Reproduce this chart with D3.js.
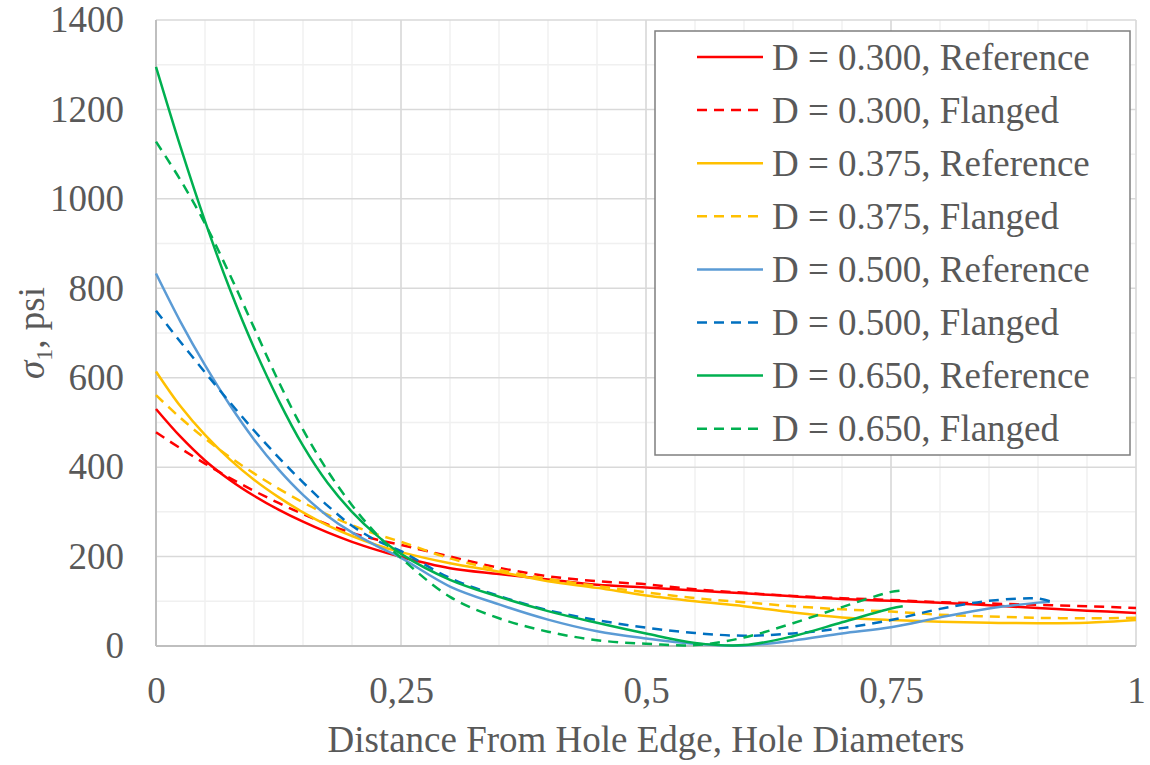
<!DOCTYPE html>
<html>
<head>
<meta charset="utf-8">
<script src="https://cdn.jsdelivr.net/npm/d3@7"></script>
<style>
    body { margin: 0; background: #fff; }
    svg { display: block; }
    text { font-family: "Liberation Serif", "Times New Roman", serif; fill: #595959; }
</style>
</head>
<body>
<svg width="1150" height="765"></svg>
<script>
// Distance from hole edge (hole diameters)
const distFull = [0, 0.025, 0.05, 0.075, 0.1, 0.125, 0.15, 0.175, 0.2, 0.225, 0.25, 0.3, 0.35, 0.4, 0.45, 0.5, 0.55, 0.6, 0.65, 0.7, 0.75, 0.8, 0.85, 0.9, 0.95, 1];
const distD500 = [0, 0.025, 0.05, 0.075, 0.1, 0.125, 0.15, 0.175, 0.2, 0.225, 0.25, 0.3, 0.35, 0.4, 0.45, 0.5, 0.55, 0.6, 0.65, 0.7, 0.75, 0.8, 0.85, 0.9, 0.912];
const distD650 = [0, 0.025, 0.05, 0.075, 0.1, 0.125, 0.15, 0.175, 0.2, 0.225, 0.25, 0.3, 0.35, 0.4, 0.45, 0.5, 0.55, 0.6, 0.65, 0.7, 0.75, 0.762];

// sigma_1, psi
const refD300 = [530, 468, 415, 372, 336, 305, 278, 254, 233, 215, 199, 174, 161, 149, 137, 131, 124, 118, 111, 105, 101, 97, 91, 85, 79, 74];
const flgD300 = [478, 442, 408, 376, 347, 320, 295, 272, 253, 238, 226, 200, 175, 156, 145, 138, 127, 119, 112, 107, 103, 98, 95, 92, 89, 85];
const refD375 = [614, 536, 472, 418, 372, 333, 299, 270, 246, 226, 210, 185, 166, 145, 130, 113, 100, 89, 75, 64, 58, 54, 52, 51, 52, 58];
const flgD375 = [561, 510, 464, 423, 386, 352, 321, 294, 270, 250, 233, 196, 170, 150, 134, 120, 107, 98, 89, 82, 77, 70, 66, 63, 62, 63];
const refD500 = [833, 725, 628, 540, 462, 395, 338, 291, 254, 224, 197, 133, 93, 59, 33, 17, 5, 1, 12, 28, 42, 64, 84, 97, 99];
const flgD500 = [750, 680, 612, 546, 482, 422, 366, 314, 269, 236, 212, 152, 112, 80, 58, 41, 29, 23, 28, 40, 58, 83, 101, 106, 100];
const refD650 = [1295, 1116, 950, 800, 667, 550, 448, 365, 300, 248, 206, 148, 110, 78, 52, 28, 7, 2, 22, 53, 84, 89];
const flgD650 = [1128, 1042, 945, 832, 712, 592, 484, 392, 315, 250, 197, 110, 62, 32, 13, 5, 2, 19, 51, 87, 121, 124];

const seriesNames = ['D = 0.300, Reference', 'D = 0.300, Flanged', 'D = 0.375, Reference', 'D = 0.375, Flanged',
    'D = 0.500, Reference', 'D = 0.500, Flanged', 'D = 0.650, Reference', 'D = 0.650, Flanged'];
const xTicks = [0, 0.25, 0.5, 0.75, 1];
const yTicks = [0, 200, 400, 600, 800, 1000, 1200, 1400];

const W = 1150, H = 765;
const LEFT = 156, RIGHT = 1136, TOP = 20, BOTTOM = 646;
const FONT = 37, TEXT_COLOR = '#595959';
const LINE_W = 2.5, DASH = '10,7';

const series = [
    {name: seriesNames[0], x: distFull, y: refD300, color: '#ff0000', dash: null},
    {name: seriesNames[1], x: distFull, y: flgD300, color: '#ff0000', dash: DASH},
    {name: seriesNames[2], x: distFull, y: refD375, color: '#ffc000', dash: null},
    {name: seriesNames[3], x: distFull, y: flgD375, color: '#ffc000', dash: DASH},
    {name: seriesNames[4], x: distD500, y: refD500, color: '#5b9bd5', dash: null},
    {name: seriesNames[5], x: distD500, y: flgD500, color: '#0070c0', dash: DASH},
    {name: seriesNames[6], x: distD650, y: refD650, color: '#00b050', dash: null},
    {name: seriesNames[7], x: distD650, y: flgD650, color: '#00b050', dash: DASH}
];

const svg = d3.select('svg');
const x = d3.scaleLinear().domain([0, 1]).range([LEFT, RIGHT]);
const y = d3.scaleLinear().domain([0, 1400]).range([BOTTOM, TOP]);

// Сетка: мелкая, потом основная
const grid = svg.append('g');
d3.range(0, 1.0001, 0.05).forEach(function (v) {
    grid.append('line')
        .attr('x1', x(v)).attr('x2', x(v))
        .attr('y1', TOP).attr('y2', BOTTOM)
        .attr('stroke', '#f0f0f0').attr('stroke-width', 1.5);
});
d3.range(100, 1401, 200).forEach(function (v) {
    grid.append('line')
        .attr('x1', LEFT).attr('x2', RIGHT)
        .attr('y1', y(v)).attr('y2', y(v))
        .attr('stroke', '#f0f0f0').attr('stroke-width', 1.5);
});
xTicks.forEach(function (v) {
    grid.append('line')
        .attr('x1', x(v)).attr('x2', x(v))
        .attr('y1', TOP).attr('y2', BOTTOM)
        .attr('stroke', '#d9d9d9').attr('stroke-width', 1.5);
});
yTicks.forEach(function (v) {
    grid.append('line')
        .attr('x1', LEFT).attr('x2', RIGHT)
        .attr('y1', y(v)).attr('y2', y(v))
        .attr('stroke', '#d9d9d9').attr('stroke-width', 1.5);
});

// Оси
svg.append('line')
    .attr('x1', LEFT).attr('x2', LEFT).attr('y1', TOP).attr('y2', BOTTOM)
    .attr('stroke', '#bfbfbf').attr('stroke-width', 2);
svg.append('line')
    .attr('x1', LEFT).attr('x2', RIGHT).attr('y1', BOTTOM).attr('y2', BOTTOM)
    .attr('stroke', '#bfbfbf').attr('stroke-width', 2);

const xAxis = svg.append('g')
    .attr('transform', `translate(0,${BOTTOM})`)
    .call(d3.axisBottom(x).tickValues(xTicks).tickSize(0).tickPadding(31)
        .tickFormat(d => String(d).replace('.', ',')));
const yAxis = svg.append('g')
    .attr('transform', `translate(${LEFT},0)`)
    .call(d3.axisLeft(y).tickValues(yTicks).tickSize(0).tickPadding(32).tickFormat(d3.format('d')));
[xAxis, yAxis].forEach(function (g) {
    g.select('.domain').remove();
    g.selectAll('text')
        .attr('font-family', '"Liberation Serif", serif')
        .attr('font-size', FONT)
        .attr('fill', TEXT_COLOR);
});

// Линии
const line = d3.line()
    .x(d => x(d[0]))
    .y(d => y(d[1]))
    .curve(d3.curveCatmullRom.alpha(0.5));

series.forEach(function (s) {
    svg.append('path')
        .attr('d', line(d3.zip(s.x, s.y)))
        .attr('fill', 'none')
        .attr('stroke', s.color)
        .attr('stroke-width', LINE_W)
        .attr('stroke-dasharray', s.dash);
});

// Подписи осей
svg.append('text')
    .attr('x', (LEFT + RIGHT) / 2)
    .attr('y', 752)
    .attr('text-anchor', 'middle')
    .attr('font-size', FONT)
    .text('Distance From Hole Edge, Hole Diameters');

const yTitle = svg.append('text')
    .attr('transform', `translate(44,${(TOP + BOTTOM) / 2}) rotate(-90)`)
    .attr('text-anchor', 'middle')
    .attr('font-size', FONT);
yTitle.append('tspan').attr('font-style', 'italic').text('σ');
yTitle.append('tspan').attr('font-size', 24).attr('dy', 8).text('1');
yTitle.append('tspan').attr('dy', -8).text(', psi');

// Легенда
const LEG_X = 655, LEG_Y = 31, LEG_W = 475, LEG_H = 424;
const ROW0 = 57, ROW_STEP = 53.1;
svg.append('rect')
    .attr('x', LEG_X).attr('y', LEG_Y)
    .attr('width', LEG_W).attr('height', LEG_H)
    .attr('fill', '#fff')
    .attr('stroke', '#7f7f7f')
    .attr('stroke-width', 1.5);

series.forEach(function (s, i) {
    const ry = ROW0 + i * ROW_STEP;
    svg.append('line')
        .attr('x1', 697).attr('x2', 763)
        .attr('y1', ry).attr('y2', ry)
        .attr('stroke', s.color)
        .attr('stroke-width', LINE_W)
        .attr('stroke-dasharray', s.dash);
    svg.append('text')
        .attr('x', 772)
        .attr('y', ry + 12.5)
        .attr('font-size', FONT)
        .text(s.name);
});
</script>
</body>
</html>
